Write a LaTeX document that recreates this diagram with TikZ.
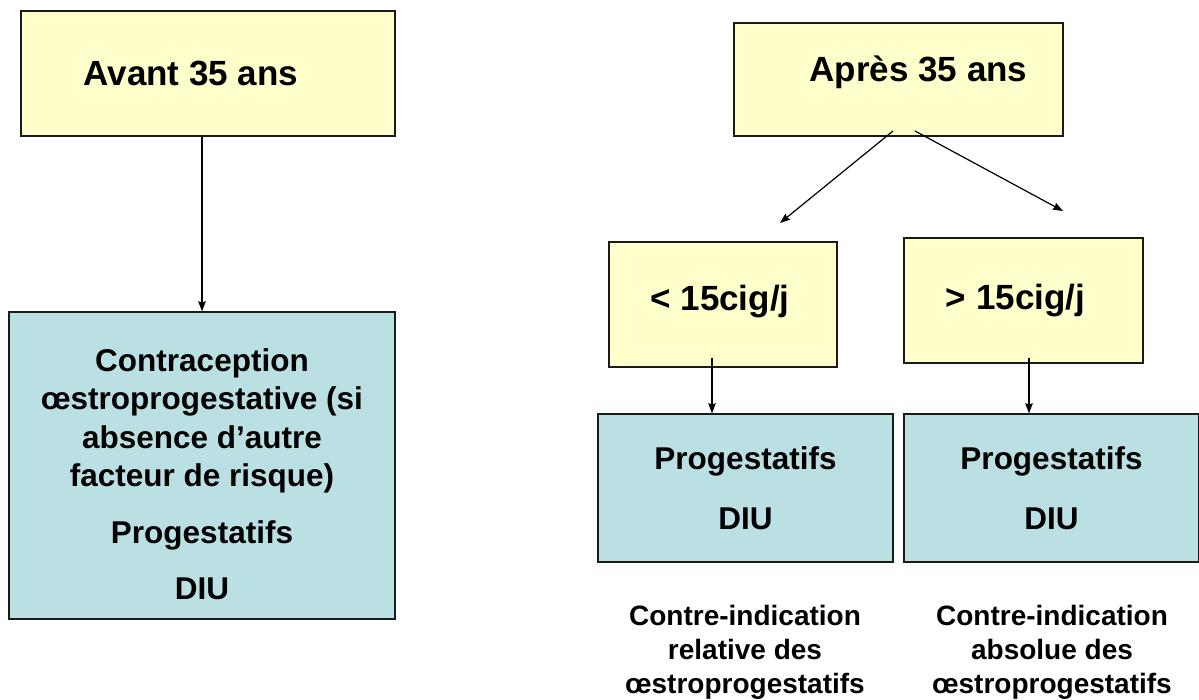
\documentclass[tikz,border=0pt]{standalone}
\usepackage{fontspec}
\setmainfont{Liberation Sans}
\usepackage{tikz}
\usetikzlibrary{arrows.meta, positioning, calc}

\definecolor{agebox}{HTML}{FFFFCC}
\definecolor{carebox}{HTML}{BBE0E3}
\definecolor{edge}{HTML}{1A1A1A}

\begin{document}
\begin{tikzpicture}[
    x=1pt, y=-1pt,
    yellowbox/.style={draw=edge, line width=1.3pt, fill=agebox, inner sep=0pt, font=\bfseries\fontsize{35}{42}\selectfont},
    bluebox/.style={draw=edge, line width=1.3pt, fill=carebox, inner sep=0pt, align=center, font=\bfseries\fontsize{31.5}{38.5}\selectfont},
    note/.style={align=center, font=\bfseries\fontsize{28}{34}\selectfont},
    arrow/.style={-{Stealth[length=10pt, width=7.5pt, inset=1pt]}, line width=1.2pt}
]
\useasboundingbox (0,0) rectangle (1199,700);

% Age boxes
\node[yellowbox, minimum width=374, minimum height=125] (avant) at (208,73.5) {Avant 35 ans\hspace*{34pt}};
\node[yellowbox, minimum width=329, minimum height=113] (apres) at (898.5,79.5) {\raisebox{7pt}[\height][\depth]{\hspace*{40pt}Après 35 ans}};
\node[yellowbox, minimum width=228, minimum height=125] (lt15) at (723,304.5) {\raisebox{3pt}[\height][\depth]{< 15cig/j\hspace*{6pt}}};
\node[yellowbox, minimum width=239, minimum height=125] (gt15) at (1023.5,300.5) {> 15cig/j\hspace*{16pt}};

% Care boxes
\node[bluebox, minimum width=386, minimum height=307] (youngcare) at (202,465.5) {\rule{0pt}{40pt}Contraception\\œstroprogestative (si\\absence d’autre\\facteur de risque)\\[18pt]Progestatifs\\[18pt]DIU};
\node[bluebox, minimum width=295, minimum height=148] (lowcare) at (745.5,488) {Progestatifs\\[22pt]DIU};
\node[bluebox, minimum width=295, minimum height=148] (highcare) at (1051.5,488) {Progestatifs\\[22pt]DIU};

% Notes
\node[note] (relnote) at (745,652) {Contre-indication\\relative des\\œstroprogestatifs};
\node[note] (absnote) at (1052,652) {Contre-indication\\absolue des\\œstroprogestatifs};

% Arrows
\coordinate (splitL) at (893,131);
\coordinate (splitR) at (915,131);
\coordinate (tipL) at (780,223);
\coordinate (tipR) at (1063,211);
\draw[arrow] (avant.south -| youngcare.north) -- (youngcare.north);
\draw[arrow] (splitL) -- (tipL);
\draw[arrow] (splitR) -- (tipR);
\draw[arrow] ([xshift=-11pt,yshift=10pt]lt15.south) -- ([xshift=-11pt]lt15.south |- lowcare.north);
\draw[arrow] ([xshift=5.5pt,yshift=6pt]gt15.south) -- ([xshift=5.5pt]gt15.south |- highcare.north);

\end{tikzpicture}
\end{document}
